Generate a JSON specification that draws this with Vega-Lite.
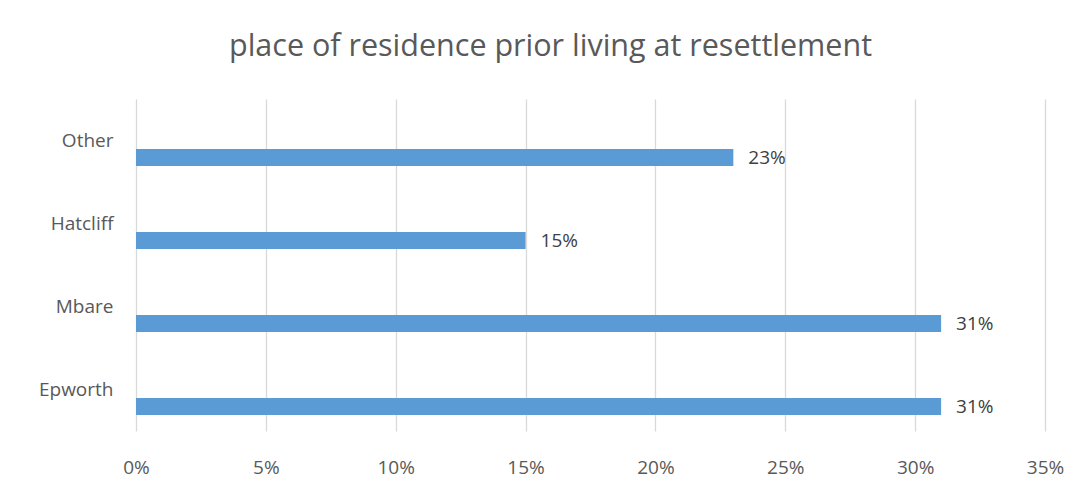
{
  "$schema": "https://vega.github.io/schema/vega-lite/v6.json",
  "width": 909,
  "height": 332,
  "autosize": {"type": "none"},
  "padding": {"left": 136, "top": 99, "right": 36, "bottom": 73},
  "background": "white",
  "title": {
    "text": "place of residence prior living at resettlement",
    "anchor": "middle",
    "frame": "group",
    "dx": -40,
    "baseline": "alphabetic",
    "offset": 13,
    "font": "Open Sans",
    "fontSize": 30.5,
    "fontWeight": "normal",
    "color": "#595959"
  },
  "data": {
    "values": [
      {"place": "Other", "share": 0.23, "series": "c"},
      {"place": "Hatcliff", "share": 0.15, "series": "c"},
      {"place": "Mbare", "share": 0.31, "series": "c"},
      {"place": "Epworth", "share": 0.31, "series": "c"}
    ]
  },
  "encoding": {
    "y": {
      "field": "place",
      "type": "nominal",
      "sort": ["Other", "Hatcliff", "Mbare", "Epworth"],
      "scale": {"paddingInner": 0, "paddingOuter": 0},
      "axis": {
        "title": null,
        "domain": false,
        "ticks": false,
        "grid": false,
        "labelPadding": 23,
        "labelFont": "Open Sans",
        "labelFontSize": 19,
        "labelColor": "#595959"
      }
    },
    "yOffset": {
      "field": "series",
      "type": "nominal",
      "scale": {"domain": ["a", "b", "c"], "paddingInner": 0, "paddingOuter": 0.94}
    },
    "x": {
      "field": "share",
      "type": "quantitative",
      "scale": {"domain": [0, 0.35], "nice": false},
      "axis": {
        "title": null,
        "format": ".0%",
        "values": [0, 0.05, 0.1, 0.15, 0.2, 0.25, 0.3, 0.35],
        "domain": false,
        "ticks": false,
        "grid": true,
        "gridColor": "#D9D9D9",
        "gridWidth": 1.3,
        "labelFlush": false,
        "labelBound": false,
        "labelOverlap": false,
        "labelPadding": 27,
        "labelFont": "Open Sans",
        "labelFontSize": 19,
        "labelColor": "#595959"
      }
    }
  },
  "layer": [
    {"mark": {"type": "bar", "color": "#5B9BD5"}},
    {
      "mark": {"type": "text", "align": "left", "baseline": "middle", "dx": 15, "font": "Open Sans", "fontSize": 19, "color": "#404040"},
      "encoding": {"text": {"field": "share", "type": "quantitative", "format": ".0%"}}
    }
  ],
  "config": {"view": {"stroke": null}}
}
